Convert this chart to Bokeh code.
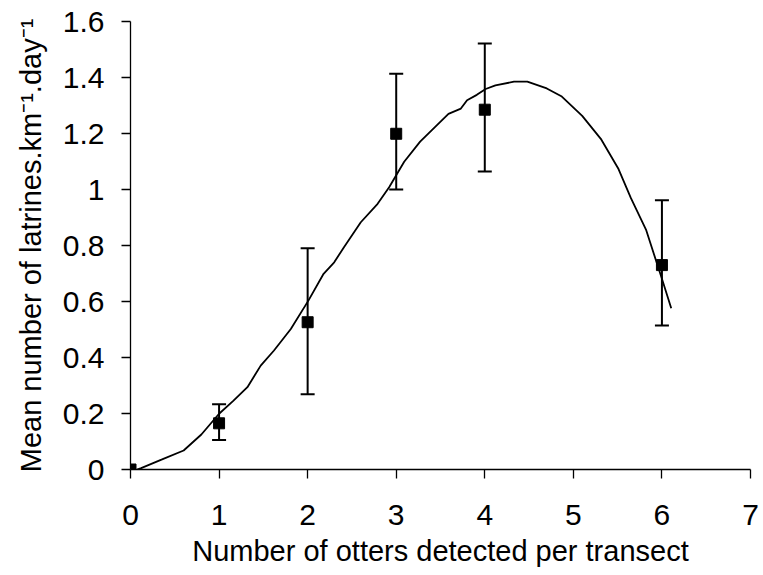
from bokeh.plotting import figure
from bokeh.models import Range1d, FixedTicker, ColumnDataSource, Whisker, TeeHead
from bokeh.embed import file_html
from bokeh.resources import INLINE

# Observed means and error bars
otters = [0, 1, 2, 3, 4, 6]
mean_latrines = [0.0, 0.165, 0.526, 1.199, 1.285, 0.730]
err_upper = [0.0, 0.233, 0.790, 1.413, 1.521, 0.962]
err_lower = [0.0, 0.105, 0.269, 1.000, 1.064, 0.514]

# Fitted curve
curve_x = [0.075, 0.12, 0.35, 0.60, 0.80, 1.00, 1.16, 1.32, 1.47, 1.62, 1.81, 2.01,
           2.18, 2.30, 2.41, 2.60, 2.79, 2.92, 3.09, 3.27, 3.44, 3.59, 3.73, 3.80,
           3.91, 4.01, 4.12, 4.33, 4.48, 4.70, 4.87, 5.10, 5.31, 5.51, 5.65, 5.82,
           6.00, 6.105]
curve_y = [0.0, 0.005, 0.035, 0.068, 0.125, 0.199, 0.245, 0.294, 0.371, 0.425, 0.502, 0.604,
           0.699, 0.740, 0.794, 0.883, 0.949, 1.008, 1.099, 1.171, 1.224, 1.270, 1.289, 1.319,
           1.338, 1.359, 1.372, 1.385, 1.385, 1.361, 1.332, 1.263, 1.181, 1.073, 0.969, 0.857,
           0.681, 0.576]

x_ticks = [0, 1, 2, 3, 4, 5, 6, 7]
y_ticks = [0, 0.2, 0.4, 0.6, 0.8, 1, 1.2, 1.4, 1.6]
y_tick_labels = ["0", "0.2", "0.4", "0.6", "0.8", "1", "1.2", "1.4", "1.6"]

x_title = "Number of otters detected per transect"
y_title = "Mean number of latrines.km\u207b\u00b9.day\u207b\u00b9"

FONT = "Liberation Sans"

p = figure(width=763, height=575, output_backend="svg", toolbar_location=None,
           x_range=Range1d(0, 7), y_range=Range1d(0, 1.6),
           min_border_left=130, min_border_right=13, min_border_top=21, min_border_bottom=106)
p.outline_line_color = None
p.grid.grid_line_color = None
p.background_fill_color = "white"
p.border_fill_color = "white"

for ax in (p.xaxis[0], p.yaxis[0]):
    ax.axis_line_color = "black"
    ax.axis_line_width = 1.3
    ax.major_tick_line_color = "black"
    ax.major_tick_line_width = 1.3
    ax.major_tick_in = 0
    ax.major_tick_out = 9
    ax.minor_tick_line_color = None
    ax.major_label_text_font = FONT
    ax.major_label_text_font_size = "30px"
    ax.major_label_text_color = "black"
    ax.axis_label_text_font = FONT
    ax.axis_label_text_font_size = "29px"
    ax.axis_label_text_font_style = "normal"
    ax.axis_label_text_color = "black"

p.xaxis.ticker = FixedTicker(ticks=x_ticks)
p.yaxis.ticker = FixedTicker(ticks=y_ticks)
p.yaxis.major_label_overrides = {v: s for v, s in zip(y_ticks, y_tick_labels)}
p.xaxis.major_label_standoff = 26
p.yaxis.major_label_standoff = 17
p.xaxis.axis_label = x_title
p.yaxis.axis_label = y_title
p.xaxis.axis_label_standoff = 7
p.yaxis.axis_label_standoff = 13

# curve
p.line(curve_x, curve_y, line_color="black", line_width=1.8)

# error bars
eb = [(x, u, l) for x, u, l in zip(otters, err_upper, err_lower) if u > l]
src_err = ColumnDataSource(data=dict(x=[e[0] for e in eb], upper=[e[1] for e in eb], lower=[e[2] for e in eb]))
wh = Whisker(source=src_err, base="x", upper="upper", lower="lower", dimension="height",
             line_color="black", line_width=2,
             upper_head=TeeHead(size=14, line_color="black", line_width=2),
             lower_head=TeeHead(size=14, line_color="black", line_width=2))
p.add_layout(wh)

# points
p.scatter(otters, mean_latrines, marker="square", size=11, fill_color="black", line_color="black")

open("out.html", "w").write(file_html(p, INLINE))
